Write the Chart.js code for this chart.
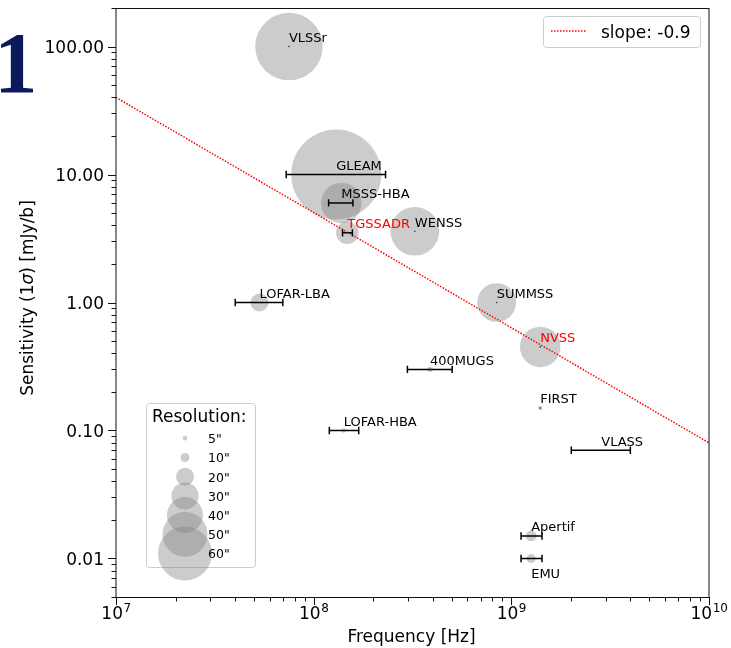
<!DOCTYPE html>
<html>
<head>
<meta charset="utf-8">
<script src="https://cdn.jsdelivr.net/npm/chart.js@4.4.0/dist/chart.umd.min.js"></script>
<style>
  html, body { margin: 0; padding: 0; background: #fff; }
  #wrap { position: relative; width: 731px; height: 648px; overflow: hidden; }
</style>
</head>
<body>
<div id="wrap"><canvas id="chart" width="731" height="648"></canvas></div>
<script>
// ========================== DATA ==========================
const surveys   = ['VLSSr', 'GLEAM', 'MSSS-HBA', 'TGSSADR', 'WENSS', 'SUMMSS', 'NVSS',
                   '400MUGS', 'FIRST', 'LOFAR-LBA', 'LOFAR-HBA', 'VLASS', 'Apertif', 'EMU'];
const freqHz    = [7.5e7, 1.30e8, 1.38e8, 1.48e8, 3.25e8, 8.43e8, 1.40e9,
                   3.88e8, 1.40e9, 5.32e7, 1.42e8, 2.85e9, 1.26e9, 1.26e9];
const freqLoHz  = [null, 7.26e7, 1.19e8, 1.40e8, null, null, null,
                   2.98e8, null, 4.01e7, 1.20e8, 2.01e9, 1.12e9, 1.12e9];
const freqHiHz  = [null, 2.31e8, 1.58e8, 1.57e8, null, null, null,
                   5.02e8, null, 6.98e7, 1.69e8, 4.00e9, 1.43e9, 1.43e9];
const sensMJy   = [100, 10, 6, 3.5, 3.6, 1.0, 0.45, 0.3, 0.15, 1.0, 0.1, 0.07, 0.015, 0.01];
const resArcsec = [75, 100, 45, 25, 54, 43, 45, 6, 5, 20, 5, 2.5, 12, 10];

const legendRes = [5, 10, 20, 30, 40, 50, 60];
const xTicks = [1e7, 1e8, 1e9, 1e10];
const yTicks = [0.01, 0.1, 1, 10, 100];
const fitX = [1e7, 1e10];
const fitY = [40, 0.08];
const fitLabel = 'slope: -0.9';

// ========================== STYLE ==========================
const FONT = '"DejaVu Sans", sans-serif';
const PX_PER_ARCSEC = 0.45;
const BUBBLE = 'rgba(128,128,128,0.4)';
const redLabels = ['TGSSADR', 'NVSS'];
const belowLabels = ['EMU'];

// ========================== DECOR PLUGIN ==========================
function drawSup(ctx, base, exp, cx, baseline) {
  ctx.font = `17px ${FONT}`;
  const wb = ctx.measureText(base).width;
  ctx.font = `12px ${FONT}`;
  const we = ctx.measureText(exp).width;
  const left = cx - (wb + we) / 2;
  ctx.textAlign = 'left';
  ctx.font = `17px ${FONT}`;
  ctx.fillText(base, left, baseline);
  ctx.font = `12px ${FONT}`;
  ctx.fillText(exp, left + wb + 0.5, baseline - 7.5);
}

function roundRect(ctx, x, y, w, h, r) {
  ctx.beginPath();
  ctx.moveTo(x + r, y);
  ctx.arcTo(x + w, y, x + w, y + h, r);
  ctx.arcTo(x + w, y + h, x, y + h, r);
  ctx.arcTo(x, y + h, x, y, r);
  ctx.arcTo(x, y, x + w, y, r);
  ctx.closePath();
}

const decor = {
  id: 'decor',
  afterDatasetsDraw(chart) {
    const { ctx, scales: { x, y } } = chart;
    ctx.save();
    // error bars
    ctx.strokeStyle = '#000';
    ctx.lineWidth = 1.5;
    surveys.forEach((s, i) => {
      if (freqLoHz[i] == null) return;
      const x1 = x.getPixelForValue(freqLoHz[i]);
      const x2 = x.getPixelForValue(freqHiHz[i]);
      const py = y.getPixelForValue(sensMJy[i]);
      ctx.beginPath();
      ctx.moveTo(x1, py); ctx.lineTo(x2, py);
      ctx.moveTo(x1, py - 3.7); ctx.lineTo(x1, py + 3.7);
      ctx.moveTo(x2, py - 3.7); ctx.lineTo(x2, py + 3.7);
      ctx.stroke();
    });
    // centre dots
    ctx.fillStyle = '#333';
    surveys.forEach((s, i) => {
      const px = x.getPixelForValue(freqHz[i]);
      const py = y.getPixelForValue(sensMJy[i]);
      ctx.beginPath(); ctx.arc(px, py, 0.8, 0, Math.PI * 2); ctx.fill();
    });
    // names
    ctx.font = `13px ${FONT}`;
    ctx.textAlign = 'left';
    ctx.textBaseline = 'alphabetic';
    surveys.forEach((s, i) => {
      const px = x.getPixelForValue(freqHz[i]);
      const py = y.getPixelForValue(sensMJy[i]);
      ctx.fillStyle = redLabels.includes(s) ? '#ff0000' : '#000';
      ctx.fillText(s, px, belowLabels.includes(s) ? py + 19.5 : py - 4.5);
    });
    ctx.restore();
  },
  afterDraw(chart) {
    const { ctx, chartArea: a, scales: { x, y } } = chart;
    ctx.save();
    // frame
    ctx.strokeStyle = '#111';
    ctx.lineWidth = 1;
    ctx.strokeRect(a.left, a.top + 0.5, a.right - a.left, a.bottom - a.top);
    // ticks
    ctx.beginPath();
    for (let e = -3; e <= 2; e++) {
      for (let m = 1; m <= 9; m++) {
        const v = m * Math.pow(10, e);
        if (v < y.min || v > y.max) continue;
        const py = Math.round(y.getPixelForValue(v)) + 0.5;
        const len = m === 1 ? 8 : 4.5;
        ctx.moveTo(a.left - len, py); ctx.lineTo(a.left, py);
      }
    }
    for (let e = 7; e <= 10; e++) {
      for (let m = 1; m <= 9; m++) {
        const v = m * Math.pow(10, e);
        if (v < x.min || v > x.max * 1.0001) continue;
        const px = Math.round(x.getPixelForValue(v)) + 0.5;
        const len = m === 1 ? 8 : 4.5;
        ctx.moveTo(px, a.bottom); ctx.lineTo(px, a.bottom + len);
      }
    }
    ctx.stroke();
    // tick labels
    ctx.fillStyle = '#000';
    ctx.font = `17px ${FONT}`;
    ctx.textAlign = 'right';
    yTicks.forEach(v => {
      ctx.fillText(v.toFixed(2), a.left - 12, y.getPixelForValue(v) + 6.3);
    });
    xTicks.forEach(v => {
      drawSup(ctx, '10', String(Math.round(Math.log10(v))), x.getPixelForValue(v), 619);
    });
    // axis titles
    ctx.font = `17px ${FONT}`;
    ctx.textAlign = 'center';
    ctx.fillText('Frequency [Hz]', (a.left + a.right) / 2 - 1, 642);
    ctx.save();
    ctx.translate(33, 298);
    ctx.rotate(-Math.PI / 2);
    const p1 = 'Sensitivity (1', p2 = 'σ', p3 = ') [mJy/b]';
    ctx.font = `17px ${FONT}`;
    const w1 = ctx.measureText(p1).width, w3 = ctx.measureText(p3).width;
    ctx.font = `italic 17px ${FONT}`;
    const w2 = ctx.measureText(p2).width;
    let sx = -(w1 + w2 + w3) / 2;
    ctx.textAlign = 'left';
    ctx.font = `17px ${FONT}`;
    ctx.fillText(p1, sx, 0); sx += w1;
    ctx.font = `italic 17px ${FONT}`;
    ctx.fillText(p2, sx, 0); sx += w2;
    ctx.font = `17px ${FONT}`;
    ctx.fillText(p3, sx, 0);
    ctx.restore();

    // slope legend
    roundRect(ctx, 543.5, 16.5, 157, 31, 3);
    ctx.fillStyle = 'rgba(255,255,255,0.8)';
    ctx.fill();
    ctx.strokeStyle = '#cccccc';
    ctx.stroke();
    ctx.strokeStyle = '#ff0000';
    ctx.lineWidth = 1.5;
    ctx.setLineDash([1.5, 1.5]);
    ctx.beginPath(); ctx.moveTo(551, 31); ctx.lineTo(586, 31); ctx.stroke();
    ctx.setLineDash([]);
    ctx.fillStyle = '#000';
    ctx.font = `17px ${FONT}`;
    ctx.textAlign = 'left';
    ctx.fillText(fitLabel, 601, 37.5);

    // resolution legend
    ctx.lineWidth = 1;
    roundRect(ctx, 146.5, 403.5, 109, 164, 3);
    ctx.fillStyle = 'rgba(255,255,255,0.8)';
    ctx.fill();
    ctx.strokeStyle = '#cccccc';
    ctx.stroke();
    ctx.fillStyle = '#000';
    ctx.font = `17px ${FONT}`;
    ctx.fillText('Resolution:', 152, 421.5);
    legendRes.forEach((r, k) => {
      const cy = 438.3 + k * 19.2;
      ctx.fillStyle = BUBBLE;
      ctx.beginPath(); ctx.arc(185, cy, r * PX_PER_ARCSEC, 0, Math.PI * 2); ctx.fill();
    });
    ctx.fillStyle = '#000';
    ctx.font = `12.5px ${FONT}`;
    legendRes.forEach((r, k) => {
      const cy = 438.3 + k * 19.2;
      ctx.fillText(r + '"', 208, cy + 4.8);
    });

    // large figure number at top-left
    ctx.fillStyle = '#0b1a5c';
    ctx.font = 'bold 87px "Liberation Serif", serif';
    ctx.fillText('1', -6, 92);
    ctx.restore();
  }
};

// ========================== CHART ==========================
const bubbles = surveys.map((s, i) => ({ x: freqHz[i], y: sensMJy[i], r: resArcsec[i] * PX_PER_ARCSEC }));
const fitLine = fitX.map((v, i) => ({ x: v, y: fitY[i] }));

new Chart(document.getElementById('chart'), {
  type: 'bubble',
  data: {
    datasets: [
      {
        type: 'line',
        label: fitLabel,
        data: fitLine,
        borderColor: '#ff0000',
        borderWidth: 1.5,
        borderDash: [1.5, 1.5],
        pointRadius: 0,
        fill: false,
        order: 0
      },
      {
        label: 'surveys',
        data: bubbles,
        backgroundColor: BUBBLE,
        borderWidth: 0,
        hoverBorderWidth: 0,
        order: 1
      }
    ]
  },
  options: {
    responsive: false,
    animation: false,
    events: [],
    layout: { autoPadding: false, padding: { left: 0, top: 8, right: 22, bottom: 0 } },
    plugins: { legend: { display: false }, tooltip: { enabled: false } },
    scales: {
      x: {
        type: 'logarithmic',
        min: 1e7, max: 1e10,
        bounds: 'data',
        grid: { display: false },
        border: { display: false },
        ticks: { display: false },
        afterFit: s => { s.height = 51; }
      },
      y: {
        type: 'logarithmic',
        min: 0.005, max: 200,
        bounds: 'data',
        grid: { display: false },
        border: { display: false },
        ticks: { display: false },
        afterFit: s => { s.width = 116; }
      }
    }
  },
  plugins: [decor]
});
</script>
</body>
</html>
